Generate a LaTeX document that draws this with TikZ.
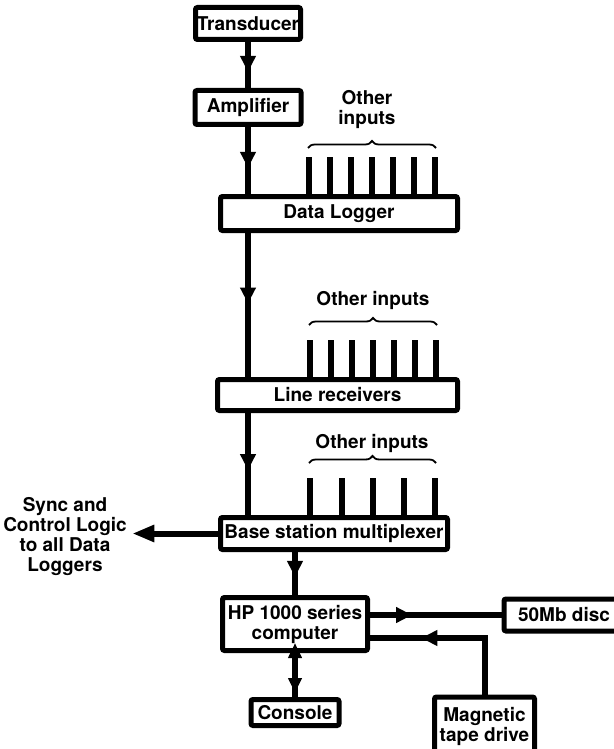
\documentclass[tikz,border=0pt]{standalone}
\usepackage{fontspec}
\setmainfont{TeX Gyre Heros}
\usetikzlibrary{arrows.meta,decorations.markings,decorations.pathreplacing}

\begin{document}
\begin{tikzpicture}[x=1pt, y=-1pt,
    every node/.style={font=\fontsize{19}{20}\selectfont\bfseries, align=center},
    box/.style={draw, line width=5pt, rounded corners=2pt, inner sep=0pt},
    conn/.style={line width=6pt},
    stub/.style={line width=5.5pt},
    brc/.style={line width=1.8pt, decorate, decoration={brace, amplitude=7pt}},
    flow/.style={postaction={decorate}, decoration={markings,
        mark=at position #1 with {\arrow{Triangle[width=15pt,length=16pt]}}}}]
    \useasboundingbox (0,0) rectangle (613,749);
    % Boxes
    \node[box, minimum width=105, minimum height=32] (trans) at (248,23.5) {Transducer};
    \node[box, minimum width=106, minimum height=34] (amp) at (248,107.5) {Amplifier};
    \node[box, minimum width=237, minimum height=34] (dlog) at (339,213.5) {Data Logger};
    \node[box, minimum width=240, minimum height=31] (lrec) at (337.5,395) {Line receivers};
    \node[box, minimum width=227, minimum height=32] (bsm) at (334,533.5) {Base station multiplexer};
    \node[box, minimum width=145, minimum height=53] (comp) at (295,624) {HP 1000 series\\computer};
    \node[box, minimum width=120, minimum height=32] (disc) at (564,615) {50Mb disc};
    \node[box, minimum width=88, minimum height=26] (cons) at (295,712.5) {Console};
    \node[box, minimum width=100, minimum height=58] (tape) at (484.5,726) {Magnetic\\tape drive};
    \node (sync) at (65,537) {Sync and\\Control Logic\\to all Data\\Loggers};
    % Other inputs
    \node (oin1) at (367,110) {Other\\inputs};
    \node (oin2) at (373,300) {Other inputs};
    \node (oin3) at (372,443) {Other inputs};
    \draw[brc] (308,148) -- (436,148);
    \draw[brc] (309,325) -- (437,325);
    \draw[brc] (309,463) -- (436,463);
    \foreach \x in {309,330,351,372,393,414,435}
        \draw[stub] (\x,157 |- dlog.north) -- (\x,157);
    \foreach \x in {310,331,352,373,394,415,436}
        \draw[stub] (\x,340 |- lrec.north) -- (\x,340);
    \foreach \x in {310,342,373,404,435}
        \draw[stub] (\x,478 |- bsm.north) -- (\x,478);
    % Signal chain
    \draw[conn, flow=0.65] (trans) -- (amp);
    \draw[conn, flow=0.61] (amp.south) -- (amp.south |- dlog.north);
    \draw[conn, flow=0.49] (amp.south |- dlog.south) -- (amp.south |- lrec.north);
    \draw[conn, flow=0.56] (amp.south |- lrec.south) -- (amp.south |- bsm.north);
    \draw[conn, -{Triangle[width=16pt,length=22pt]}] (bsm.west) -- ([xshift=2pt]sync.east |- bsm.west);
    \draw[conn, flow=0.58] (comp.north |- bsm.south) -- (comp.north);
    % Computer links
    \draw[conn, flow=0.32] (comp.east |- disc.west) -- (disc.west);
    \draw[conn, flow=0.7] (tape.north) |- ([yshift=-14pt]comp.east);
    \draw[conn, postaction={decorate}, decoration={markings,
        mark=at position 5pt with {\arrow{Triangle[width=13pt,length=15pt,reversed]}},
        mark=at position 40pt with {\arrow{Triangle[width=13pt,length=15pt]}}}]
        (comp) -- (cons);
\end{tikzpicture}
\end{document}
